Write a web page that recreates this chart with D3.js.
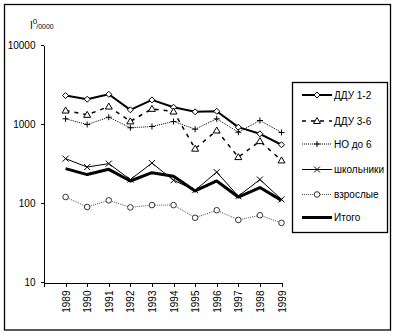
<!DOCTYPE html>
<html>
<head>
<meta charset="utf-8">
<script src="https://cdn.jsdelivr.net/npm/d3@7/dist/d3.min.js"></script>
<style>
  html, body { margin: 0; padding: 0; background: #fff; }
  svg { display: block; font-family: "Liberation Sans", Arial, sans-serif; }
</style>
</head>
<body>
<svg id="chart" width="397" height="336"></svg>
<script>
const years = [1989, 1990, 1991, 1992, 1993, 1994, 1995, 1996, 1997, 1998, 1999];
const yTicks = [10, 100, 1000, 10000];
const seriesNames = ["ДДУ 1-2", "ДДУ 3-6", "НО до 6", "школьники", "взрослые", "Итого"];
const ddu12 = [2290, 2056, 2377, 1511, 2020, 1630, 1426, 1451, 912, 752, 546];
const ddu36 = [1480, 1306, 1663, 1080, 1555, 1438, 487, 828, 381, 607, 346];
const noDo6 = [1163, 986, 1218, 896, 930, 1076, 860, 1163, 788, 1107, 781];
const shkolniki = [364, 285, 315, 198, 320, 194, 145, 246, 122, 198, 111];
const vzroslye = [119, 89, 108, 88, 94, 94, 65, 81, 61, 70, 56];
const itogo = [272, 229, 267, 190, 242, 218, 142, 190, 119, 157, 108];

const seriesValues = [ddu12, ddu36, noDo6, shkolniki, vzroslye, itogo];
const styles = [
  { stroke: "#000", width: 2, dash: null, marker: "diamond" },
  { stroke: "#000", width: 1.5, dash: "4,5", marker: "triangle" },
  { stroke: "#000", width: 1, dash: "1,1", marker: "plus" },
  { stroke: "#000", width: 1, dash: null, marker: "cross" },
  { stroke: "#555", width: 1, dash: "1,1", marker: "circle" },
  { stroke: "#000", width: 3, dash: null, marker: null }
];

const svg = d3.select("#chart");

// outer border
svg.append("rect").attr("x", 4.5).attr("y", 4.5).attr("width", 386).attr("height", 325.5)
  .attr("fill", "none").attr("stroke", "#000").attr("stroke-width", 1.3);

const x = d3.scaleLinear().domain([1988, 1999]).range([44, 281.5]);
const y = d3.scaleLog().domain([10, 10000]).range([282, 45]);

// Y axis
const yAxis = d3.axisLeft(y).tickValues(yTicks).tickSize(3).tickSizeOuter(0).tickFormat(d3.format("d"));
const gy = svg.append("g").attr("transform", "translate(43.5,0)").call(yAxis);
gy.selectAll("text").attr("font-size", 10).attr("font-family", "Liberation Sans, Arial, sans-serif").attr("fill", "#000").attr("x", -8);
gy.selectAll("line, path").attr("stroke", "#000").attr("shape-rendering", "crispEdges");

// X axis
const xTickVals = d3.range(1988, 2000);
const xAxis = d3.axisBottom(x).tickValues(xTickVals).tickSize(4).tickSizeOuter(0)
  .tickFormat(d => years.includes(d) ? String(d) : "");
const gx = svg.append("g").attr("transform", "translate(0,282.5)").call(xAxis);
gx.selectAll("line, path").attr("stroke", "#000").attr("shape-rendering", "crispEdges");
gx.selectAll("text")
  .attr("font-size", 10).attr("font-family", "Liberation Sans, Arial, sans-serif").attr("fill", "#000")
  .attr("transform", "rotate(-90)")
  .attr("text-anchor", "end")
  .attr("x", -8).attr("y", 0).attr("dy", "0.35em");

// Unit label
const unit = svg.append("text").attr("x", 30).attr("y", 29).attr("font-size", 10).attr("fill", "#000");
unit.append("tspan").text("I");
unit.append("tspan").attr("font-size", 8).attr("dy", -5).text("0");
unit.append("tspan").attr("font-size", 7).attr("dy", 5).attr("dx", -1).text("/0000");

// markers
function drawMarker(g, type, cx, cy, color) {
  if (type === "diamond") {
    g.append("path").attr("d", `M${cx},${cy - 3}L${cx + 3},${cy}L${cx},${cy + 3}L${cx - 3},${cy}Z`)
      .attr("fill", "#fff").attr("stroke", "#000").attr("stroke-width", 1);
  } else if (type === "triangle") {
    g.append("path").attr("d", `M${cx},${cy - 3.5}L${cx + 3.5},${cy + 2.5}L${cx - 3.5},${cy + 2.5}Z`)
      .attr("fill", "#fff").attr("stroke", "#000").attr("stroke-width", 1);
  } else if (type === "plus") {
    g.append("path").attr("d", `M${cx - 3},${cy}H${cx + 3}M${cx},${cy - 3}V${cy + 3}`)
      .attr("stroke", "#000").attr("stroke-width", 1);
  } else if (type === "cross") {
    g.append("path").attr("d", `M${cx - 3},${cy - 3}L${cx + 3},${cy + 3}M${cx + 3},${cy - 3}L${cx - 3},${cy + 3}`)
      .attr("stroke", "#000").attr("stroke-width", 1);
  } else if (type === "circle") {
    g.append("circle").attr("cx", cx).attr("cy", cy).attr("r", 2.8)
      .attr("fill", "#fff").attr("stroke", "#333").attr("stroke-width", 1);
  }
}

const line = d3.line().x((d, i) => x(years[i])).y(d => y(d));
const plot = svg.append("g");
seriesValues.forEach((vals, si) => {
  const st = styles[si];
  plot.append("path").datum(vals).attr("d", line)
    .attr("fill", "none").attr("stroke", st.stroke).attr("stroke-width", st.width)
    .attr("stroke-dasharray", st.dash).attr("stroke-linejoin", "round");
});
seriesValues.forEach((vals, si) => {
  const st = styles[si];
  if (!st.marker) return;
  const g = plot.append("g");
  vals.forEach((v, i) => drawMarker(g, st.marker, x(years[i]), y(v)));
});

// Legend
svg.append("rect").attr("x", 292.5).attr("y", 82.5).attr("width", 95).attr("height", 150)
  .attr("fill", "#fff").attr("stroke", "#000").attr("stroke-width", 1.3);
const legY = [95, 121, 144, 169.5, 194.5, 217.5];
seriesNames.forEach((name, si) => {
  const st = styles[si];
  const g = svg.append("g");
  const ly = legY[si];
  g.append("line").attr("x1", 302).attr("x2", 332).attr("y1", ly).attr("y2", ly)
    .attr("stroke", st.stroke).attr("stroke-width", st.width).attr("stroke-dasharray", st.dash);
  if (st.marker) drawMarker(g, st.marker, 317, ly);
  g.append("text").attr("x", 334).attr("y", ly).attr("dy", "0.35em")
    .attr("font-size", 10).attr("fill", "#000").text(name);
});
</script>
</body>
</html>
